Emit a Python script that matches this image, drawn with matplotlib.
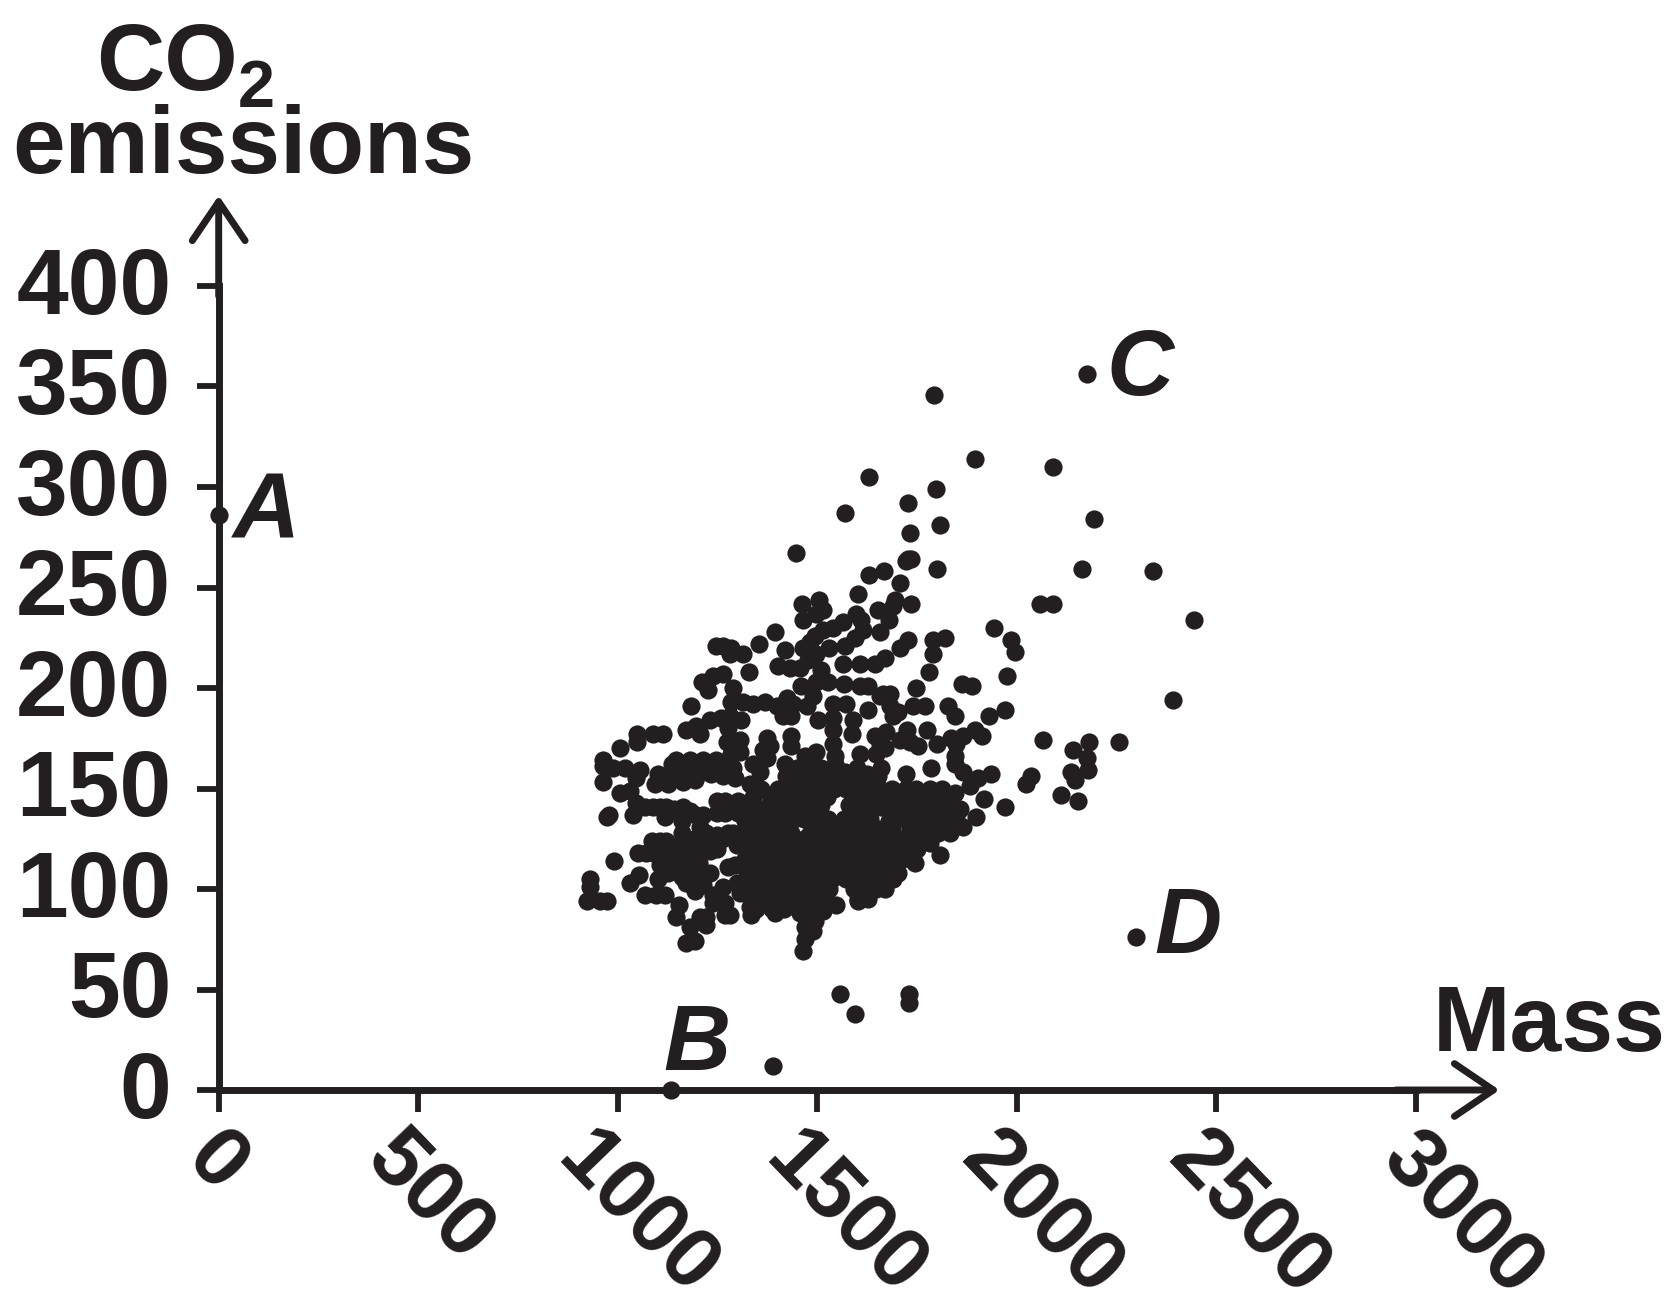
import numpy as np
import matplotlib
matplotlib.use('Agg')
import matplotlib.pyplot as plt
from matplotlib.transforms import ScaledTranslation

# points: mass, CO2
mass_top = [1448, 1722, 1736, 1800, 1630, 1667, 1707, 1602, 1734, 1694,
            1690, 1463, 1504, 1515, 1498, 1465, 1652, 1680, 1598, 1611,
            1565, 1540, 1515, 1494, 1481, 1465, 1615, 1594, 1569, 1530,
            1657, 1728, 1707, 1790, 1821, 1789, 1943, 1986, 1996, 1976,
            2059, 1394, 1354, 1419, 1247, 1264, 1285, 1313, 1281, 1329,
            1402, 1431, 1456, 1477, 1498, 1565, 1607, 1644, 1669, 1780,
            1509, 1460, 1498, 1527, 1567, 1607, 1627, 1747, 1863, 1889,
            1239, 1264, 1212, 1227, 1289, 1183, 1490, 1475, 1665, 1682,
            1657, 1285, 1314, 1339, 1369, 1398, 1425, 1440, 1540, 1573,
            1627, 1682, 1703, 1740, 1769, 1828, 1845, 1970, 1931, 1690]
co2_top = [267, 263, 264, 259, 256, 258, 252, 247, 242, 244,
           241, 242, 244, 239, 237, 234, 239, 234, 237, 234,
           233, 230, 229, 226, 223, 220, 229, 225, 221, 220,
           228, 224, 220, 224, 225, 217, 230, 224, 218, 206,
           242, 228, 222, 219, 221, 221, 220, 217, 217, 208,
           211, 210, 210, 214, 217, 212, 212, 212, 215, 208,
           209, 201, 203, 203, 202, 201, 201, 200, 202, 201,
           206, 207, 203, 199, 200, 191, 196, 191, 197, 197,
           196, 193, 193, 192, 193, 191, 195, 192, 192, 192,
           189, 191, 188, 191, 191, 191, 186, 189, 186, 186]

mass_mid = [1415, 1435, 1310, 1281, 1502, 1540, 1590, 1172, 1197, 1231,
            1260, 1206, 1049, 1089, 1114, 1049, 1007, 1277, 1540, 1586,
            1644, 1673, 1725, 1774, 2066, 1435, 1373, 1273, 1306, 1364,
            1381, 1435, 1540, 1707, 1732, 1753, 1657, 1799, 1836, 1865,
            1895, 1913, 1849, 1607, 1648, 1669, 964, 964, 989, 1018,
            1055, 1047, 1101, 1093, 1126, 1164, 1193, 1285, 1306, 1373,
            1339, 1356, 1498, 1469, 1544, 1544, 1845, 1845, 1865, 1784,
            1722, 1147, 1181, 1214, 1247, 1147, 1181, 1214, 1247, 1281,
            964, 1005, 1030, 1047, 1039, 1936, 1903, 1882, 1918, 1970,
            1897, 1865, 1845, 1331, 979, 972, 1089, 1122, 1164, 1197,
            1214, 1118, 1160, 1268, 1268, 1302, 1302, 1068]
co2_mid = [186, 186, 184, 186, 184, 185, 184, 179, 181, 184,
           185, 177, 177, 177, 177, 173, 170, 180, 179, 177,
           176, 178, 179, 179, 174, 176, 175, 173, 174, 169,
           171, 171, 172, 174, 173, 171, 172, 172, 175, 176,
           179, 176, 172, 167, 167, 170, 164, 161, 160, 160,
           159, 155, 157, 152, 152, 153, 154, 167, 168, 165,
           162, 158, 168, 166, 166, 162, 166, 162, 158, 160,
           157, 164, 164, 164, 164, 159, 159, 159, 159, 158,
           153, 148, 149, 143, 137, 157, 155, 151, 145, 141,
           136, 131, 148, 152, 137, 136, 141, 141, 141, 137,
           137, 136, 134, 144, 138, 144, 138, 141]

mass_low = [1085, 1122, 1164, 1051, 1089, 1122, 1156, 1189, 1222, 1206,
            1277, 1323, 1231, 991, 1139, 1101, 1054, 1030, 930, 930,
            924, 955, 974, 1068, 1097, 1118, 1172, 1193, 1154, 1147,
            1239, 1239, 1264, 1277, 1231, 1206, 1222, 1181, 1222, 1172,
            1193, 1268, 1281, 1333, 1331, 1306, 1394, 1373, 1419, 1465,
            1469, 1490, 1469, 1494, 1456, 1515, 1548, 1602, 1661, 1703,
            1744, 1809, 1782, 1803, 1832, 1753, 1740]
co2_low = [124, 124, 123, 118, 118, 118, 116, 119, 128, 131,
           128, 128, 119, 114, 111, 105, 107, 103, 105, 101,
           94, 94, 94, 97, 97, 97, 103, 99, 92, 86,
           97, 93, 101, 111, 108, 86, 86, 81, 82, 73,
           74, 87, 87, 87, 91, 98, 88, 93, 93, 69,
           75, 79, 81, 84, 88, 89, 92, 94, 102, 108,
           113, 117, 123, 128, 128, 128, 118]

# the dense middle of the cloud, row by row
co2_rows = [156, 150, 145, 140, 135, 130, 125, 120, 115, 110, 105, 100, 95, 90]
mass_rows = [
    [1422, 1446, 1472, 1493, 1523, 1558, 1592, 1618, 1652],
    [1402, 1428, 1457, 1482, 1508, 1541, 1572, 1598, 1633, 1658, 1687, 1722, 1748, 1783, 1812],
    [1383, 1417, 1438, 1472, 1496, 1592, 1641, 1672, 1701, 1733, 1758, 1792, 1821],
    [1362, 1393, 1427, 1452, 1478, 1612, 1693, 1738, 1772, 1801, 1833, 1857],
    [1347, 1377, 1408, 1441, 1467, 1502, 1528, 1567, 1598, 1632, 1719, 1762, 1788, 1831, 1848],
    [1332, 1358, 1392, 1418, 1488, 1527, 1558, 1592, 1621, 1652, 1688, 1732, 1768, 1802, 1838],
    [1262, 1291, 1318, 1352, 1381, 1412, 1483, 1508, 1542, 1571, 1603, 1628, 1662, 1691, 1718, 1761],
    [1332, 1361, 1388, 1422, 1449, 1482, 1511, 1538, 1572, 1601, 1632, 1658, 1692, 1722, 1751],
    [1318, 1352, 1379, 1411, 1442, 1468, 1502, 1529, 1561, 1588, 1622, 1651, 1679, 1712, 1733],
    [1322, 1348, 1382, 1408, 1439, 1472, 1498, 1532, 1558, 1592, 1618, 1652, 1681, 1698],
    [1331, 1362, 1388, 1421, 1452, 1478, 1512, 1538, 1572, 1599, 1631, 1658, 1689],
    [1328, 1361, 1392, 1418, 1451, 1482, 1508, 1529, 1591, 1622, 1648, 1671],
    [1336, 1368, 1402, 1429, 1461, 1488, 1516, 1602, 1628],
    [1347, 1386, 1418, 1452, 1479, 1511],
]

# more points where the cloud closes up
mass_fill = [1135, 1165, 1198, 1230, 1262, 1290, 1135, 1160, 1200, 1235,
             1265, 1295, 1105, 1140, 1180, 1250, 1250, 1285, 1320, 1340,
             1320, 1105, 1140, 1072, 1105, 1140, 1175, 1205, 1160, 1190,
             1215, 1250, 1250, 1125, 1160, 1190, 1215, 1290, 1300, 1295,
             1300, 1270, 1435, 1468, 1450, 1480, 1440, 1510, 1525, 1500,
             1580, 1610, 1520, 1545, 1575, 1605, 1640, 1620, 1575, 1530,
             1480, 1420, 1390, 1360, 1660, 1680, 1710, 1420, 1450, 1480,
             1510, 1540, 1570, 1600, 1625, 1660, 1760, 1800, 1780, 1820,
             1750]
co2_fill = [162, 162, 162, 162, 162, 160, 155, 156, 157, 157,
            156, 155, 141, 140, 139, 144, 138, 141, 141, 146,
            134, 124, 121, 118, 112, 118, 112, 113, 128, 125,
            122, 120, 127, 108, 106, 106, 102, 128, 122, 112,
            103, 93, 128, 125, 136, 137, 141, 142, 146, 150,
            142, 146, 132, 132, 130, 136, 128, 140, 123, 120,
            127, 137, 145, 150, 141, 134, 138, 162, 160, 162,
            160, 158, 158, 160, 157, 160, 146, 140, 133, 137,
            136]

# the scattered points around the cloud
mass_out = [0, 2177, 1792, 1896, 2091, 1631, 1797, 1727, 1570, 2193,
            1808, 1733, 1727, 2163, 2342, 2091, 2444, 2391, 2182, 2257,
            2142, 2177, 2179, 2137, 2145, 2035, 2024, 2110, 2153, 2300,
            1556, 1594, 1730, 1730, 1390, 1134]
co2_out = [286, 356, 346, 314, 310, 305, 299, 292, 287, 284,
           281, 277, 264, 259, 258, 242, 234, 194, 173, 173,
           169, 165, 159, 158, 154, 156, 152, 147, 144, 76,
           48, 38, 48, 43.5, 12, 0]

x_ticks = [0, 500, 1000, 1500, 2000, 2500, 3000]
y_ticks = [0, 50, 100, 150, 200, 250, 300, 350, 400]
point_names = ['A', 'B', 'C', 'D']
name_mass = [35, 1115, 2225, 2345]
name_co2 = [275, 10, 346, 68]

ink = '#231f20'
W, H = 1673, 1299

plt.rcParams['font.family'] = ['Liberation Sans', 'DejaVu Sans']
plt.rcParams['font.weight'] = 'bold'

fig = plt.figure(figsize=(W / 100, H / 100), dpi=100)
ax = fig.add_axes([218.7 / W, (H - 1090) / H, 1197 / W, 804 / H])
ax.set_xlim(0, 3000)
ax.set_ylim(0, 400)

core_mass = np.concatenate(mass_rows)
core_co2 = np.concatenate([[c] * len(m) for c, m in zip(co2_rows, mass_rows)])
all_mass = np.concatenate([mass_top, mass_mid, mass_low, core_mass, mass_fill, mass_out])
all_co2 = np.concatenate([co2_top, co2_mid, co2_low, core_co2, co2_fill, co2_out])
ax.scatter(all_mass, all_co2, s=172, c=ink, linewidths=0, clip_on=False, zorder=3)

for side in ['top', 'right']:
    ax.spines[side].set_visible(False)
for side in ['left', 'bottom']:
    ax.spines[side].set_linewidth(5)
    ax.spines[side].set_color(ink)

ax.set_xticks(x_ticks)
ax.set_yticks(y_ticks)
ax.tick_params(axis='y', length=16, width=4.2, color=ink, pad=18, labelsize=67, labelcolor=ink)
ax.tick_params(axis='x', length=16, width=4.2, color=ink, pad=24, labelsize=62, labelcolor=ink)

# the slanted labels sit a little left of their ticks, in points
x_label_shift = [-14, -28, -34, -28, -30, -25, -15]
for lab, dx in zip(ax.get_xticklabels(), x_label_shift):
    lab.set_rotation(-46)
    lab.set_ha('left')
    lab.set_va('center')
    lab.set_rotation_mode('anchor')
    lab.set_transform(lab.get_transform() + ScaledTranslation(dx / 72, 0, fig.dpi_scale_trans))
for lab in ax.get_yticklabels():
    lab.set_transform(lab.get_transform() + ScaledTranslation(0, 4 / 72, fig.dpi_scale_trans))

# axis arrows
head = '->,head_length=28,head_width=19'
ax.annotate('', xy=(0, 445), xytext=(0, 395), annotation_clip=False,
            arrowprops=dict(arrowstyle=head, mutation_scale=1, lw=5, color=ink, shrinkA=0, shrinkB=0))
ax.annotate('', xy=(3210, 0), xytext=(2950, 0), annotation_clip=False,
            arrowprops=dict(arrowstyle=head, mutation_scale=1, lw=5, color=ink, shrinkA=0, shrinkB=0))

for name, m, c in zip(point_names, name_mass, name_co2):
    ax.text(m, c, name, fontsize=67, style='italic', color=ink, ha='left', va='baseline')


def label(px, py, txt, size):
    fig.text(px / W, 1 - py / H, txt, fontsize=size, color=ink, ha='left', va='baseline')


label(96, 90, 'CO', 68)
label(238, 107, '2', 48)
label(12, 173, 'emissions', 68)
label(1433, 1051, 'Mass', 67)

fig.savefig('out.png', dpi=100)
plt.close(fig)
